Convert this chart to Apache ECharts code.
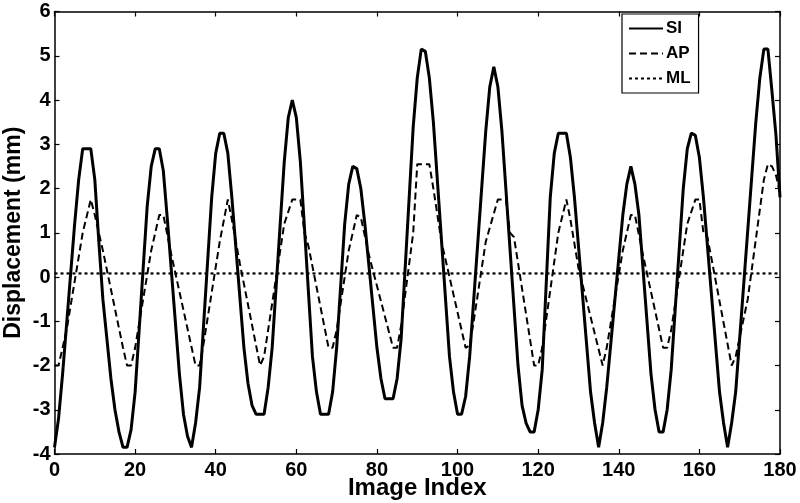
<!DOCTYPE html>
<html>
<head>
<meta charset="utf-8">
<script src="https://cdn.jsdelivr.net/npm/echarts@6/dist/echarts.min.js"></script>
<style>
  html, body { margin: 0; padding: 0; background: #fff; }
  #chart { width: 800px; height: 503px; }
</style>
</head>
<body>
<div id="chart"></div>
<script>
// vertices (image index, displacement in mm)
const siX = [0, 1, 2, 5, 6, 7, 9, 10, 11, 12, 14, 15, 16, 17, 18, 19, 20, 23, 24, 25, 26, 27, 28, 31, 32, 33, 34, 35, 36,
  39, 40, 41, 42, 43, 44, 47, 48, 49, 50, 52, 53, 54, 57, 58, 59, 60, 61, 64, 65, 66, 68, 69, 70,
  72, 73, 74, 75, 76, 77, 80, 81, 82, 84, 85, 86, 89, 90, 91, 92, 93, 94, 98, 99, 100, 101, 102, 103,
  107, 108, 109, 110, 111, 115, 116, 117, 118, 119, 120, 121, 123, 124, 125, 127, 128, 129, 133, 134, 135, 136, 137,
  141, 142, 143, 144, 145, 148, 149, 150, 151, 152, 153, 156, 157, 158, 159, 160, 161, 165, 166, 167, 168, 169,
  174, 175, 176, 177, 178, 179, 180];
const siY = [-3.85, -3.2, -2.2, 1.2, 2.2, 2.9, 2.9, 2.2, 0.8, -0.5, -2.3, -3.0, -3.5, -3.85, -3.85, -3.45, -2.6, 1.6, 2.5, 2.9, 2.9, 2.4, 1.3, -2.2, -3.1, -3.6, -3.85, -3.3, -2.5,
  1.8, 2.8, 3.25, 3.25, 2.8, 1.8, -1.6, -2.4, -2.9, -3.1, -3.1, -2.5, -1.6, 2.6, 3.6, 4.0, 3.6, 2.6, -1.8, -2.6, -3.1, -3.1, -2.6, -1.6,
  1.2, 2.1, 2.5, 2.45, 2.0, 1.2, -1.6, -2.3, -2.75, -2.75, -2.3, -1.4, 3.4, 4.5, 5.15, 5.1, 4.5, 3.5, -1.8, -2.6, -3.1, -3.1, -2.7, -1.8,
  3.3, 4.3, 4.75, 4.3, 3.3, -2.0, -2.9, -3.3, -3.5, -3.5, -3.0, -2.1, 1.8, 2.8, 3.25, 3.25, 2.7, 1.8, -2.6, -3.3, -3.85, -3.3, -2.5,
  1.4, 2.1, 2.5, 2.1, 1.4, -2.2, -3.0, -3.5, -3.5, -3.0, -2.1, 2.0, 2.9, 3.25, 3.2, 2.7, 1.8, -2.6, -3.3, -3.85, -3.3, -2.6,
  3.5, 4.5, 5.15, 5.15, 4.2, 3.2, 1.8];

const apX = [0, 1, 3, 7, 9, 10, 12, 17, 18, 19, 20, 24, 26, 27, 29, 35, 36, 37, 41, 43, 44, 46, 51, 52,
  55, 57, 59, 61, 62, 63, 68, 69, 70, 73, 75, 76, 78, 84, 85, 86, 89, 90, 93, 94, 96, 102, 103, 104,
  107, 110, 112, 113, 114, 119, 120, 121, 125, 127, 128, 130, 136, 137, 141, 143, 144, 146, 151, 152, 153,
  157, 159, 160, 161, 162, 168, 169, 172, 176, 177, 178, 179, 180];
const apY = [-2.0, -2.0, -1.2, 1.0, 1.75, 1.4, 0.6, -1.6, -2.0, -2.0, -1.6, 0.6, 1.4, 1.4, 0.5, -2.0, -2.0, -1.5, 0.8, 1.75, 1.3, 0.3, -2.0, -1.8,
  0.0, 1.2, 1.75, 1.75, 1.0, 0.7, -1.6, -1.6, -1.2, 0.6, 1.4, 1.35, 0.5, -1.6, -1.6, -1.1, 1.0, 2.55, 2.55, 2.0, 0.8, -1.6, -1.55, -1.0,
  0.8, 1.75, 1.75, 1.0, 0.9, -2.0, -2.0, -1.6, 1.0, 1.75, 1.3, 0.2, -2.0, -1.6, 0.6, 1.4, 1.4, 0.5, -1.6, -1.6, -1.2,
  1.2, 1.75, 1.75, 1.0, 0.9, -2.0, -1.8, -0.5, 2.2, 2.55, 2.5, 2.3, 1.9];

const mlX = [0, 180];
const mlY = [0.08, 0.08];

const xTicks = [0, 20, 40, 60, 80, 100, 120, 140, 160, 180];
const yTicks = [-4, -3, -2, -1, 0, 1, 2, 3, 4, 5, 6];

const pairs = (xs, ys) => xs.map((x, i) => [x, ys[i]]);

const font = 'Liberation Sans, Arial, sans-serif';
const axisLine = { show: true, onZero: false, lineStyle: { color: '#000', width: 1.5 } };
const tickIn = { show: true, inside: true, length: 5, lineStyle: { color: '#000', width: 1.2 } };

const chart = echarts.init(document.getElementById('chart'));

chart.setOption({
  animation: false,
  backgroundColor: '#fff',
  grid: { left: 54.5, right: 20, top: 11.5, bottom: 49, outerBoundsMode: 'none', containLabel: false },
  legend: {
    data: ['SI', 'AP', 'ML'],
    orient: 'vertical',
    left: 622,
    top: 14,
    padding: [6, 8, 6, 6],
    itemGap: 8,
    itemWidth: 34,
    itemHeight: 14,
    backgroundColor: '#fff',
    borderColor: '#000',
    borderWidth: 1.2,
    itemStyle: { opacity: 0, borderWidth: 0 },
    textStyle: { color: '#000', fontFamily: font, fontWeight: 'bold', fontSize: 17, padding: [0, 0, 0, -2] }
  },
  xAxis: [
    {
      type: 'value',
      min: xTicks[0],
      max: xTicks[xTicks.length - 1],
      interval: 20,
      name: 'Image Index',
      nameLocation: 'middle',
      nameGap: 34,
      nameMoveOverlap: false,
      nameTextStyle: { color: '#000', fontFamily: font, fontWeight: 'bold', fontSize: 24, verticalAlign: 'middle' },
      axisLine,
      axisTick: tickIn,
      axisLabel: { color: '#000', fontFamily: font, fontWeight: 'bold', fontSize: 20, margin: 6 },
      splitLine: { show: false }
    },
    {
      type: 'value',
      position: 'top',
      min: 0,
      max: 180,
      interval: 20,
      axisLine,
      axisTick: tickIn,
      axisLabel: { show: false },
      splitLine: { show: false }
    }
  ],
  yAxis: [
    {
      type: 'value',
      min: yTicks[0],
      max: yTicks[yTicks.length - 1],
      interval: 1,
      name: 'Displacement (mm)',
      nameLocation: 'middle',
      nameGap: 41,
      nameMoveOverlap: false,
      nameTextStyle: { color: '#000', fontFamily: font, fontWeight: 'bold', fontSize: 23, verticalAlign: 'middle' },
      axisLine,
      axisTick: tickIn,
      axisLabel: { color: '#000', fontFamily: font, fontWeight: 'bold', fontSize: 20, margin: 4 },
      splitLine: { show: false }
    },
    {
      type: 'value',
      position: 'right',
      min: -4,
      max: 6,
      interval: 1,
      axisLine,
      axisTick: tickIn,
      axisLabel: { show: false },
      splitLine: { show: false }
    }
  ],
  series: [
    {
      name: 'SI',
      type: 'line',
      data: pairs(siX, siY),
      symbol: 'none',
      lineStyle: { color: '#000', width: 3, type: 'solid' },
      itemStyle: { color: '#000' },
      z: 3
    },
    {
      name: 'AP',
      type: 'line',
      data: pairs(apX, apY),
      symbol: 'none',
      lineStyle: { color: '#000', width: 2, type: [7, 4] },
      itemStyle: { color: '#000' },
      z: 2
    },
    {
      name: 'ML',
      type: 'line',
      data: pairs(mlX, mlY),
      symbol: 'none',
      lineStyle: { color: '#000', width: 2.2, type: [3, 3] },
      itemStyle: { color: '#000' },
      z: 2
    }
  ]
});
</script>
</body>
</html>
